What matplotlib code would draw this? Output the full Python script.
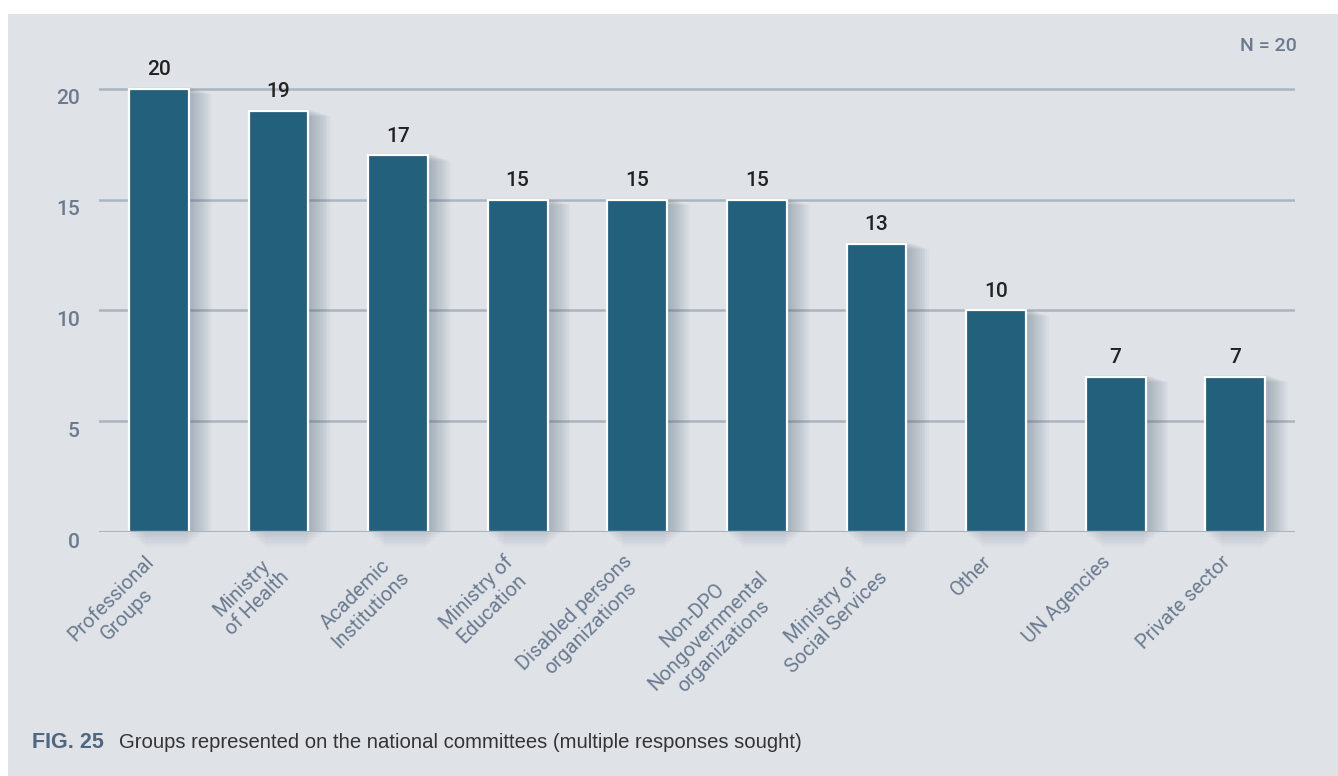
import matplotlib.pyplot as plt
from matplotlib.patches import Rectangle
from matplotlib.transforms import ScaledTranslation, offset_copy

# committee groups and how many of the 20 countries reported each
groups = ["Professional\nGroups", "Ministry\nof Health", "Academic\nInstitutions",
          "Ministry of\nEducation", "Disabled persons\norganizations",
          "Non-DPO\nNongovernmental\norganizations", "Ministry of\nSocial Services",
          "Other", "UN Agencies", "Private sector"]
counts = [20, 19, 17, 15, 15, 15, 13, 10, 7, 7]
yticks = [0, 5, 10, 15, 20]

bg = "#dfe3e8"
bar_col = "#22607b"
grid_col = "#aab4be"
label_col = "#6b7a8f"
narrow = ["Roboto", "DejaVu Sans"]

fig = plt.figure(figsize=(13.38, 7.76), dpi=100)
fig.patch.set_facecolor("white")
# grey panel behind everything
fig.patches.append(Rectangle((8 / 1338, 0), 1, (776 - 14) / 776, transform=fig.transFigure,
                             facecolor=bg, edgecolor="none", zorder=-5))

ax = fig.add_axes([99 / 1338, 244 / 776, 1196 / 1338, 0.6137])
ax.set_zorder(2)
ax.set_facecolor("none")
ax.set_xlim(-0.5, len(counts) - 0.5)
ax.set_ylim(0, 21.5)

x = list(range(len(counts)))
w = 0.5

for t in yticks[1:]:
    ax.axhline(t, color=grid_col, linewidth=1.8, zorder=0.5)

# soft shadow to the right of each bar and under the baseline
for i, v in enumerate(counts):
    for k in range(12):
        ax.add_patch(Rectangle((i - w / 2, 0), w + 0.016 * (k + 1), v + 0.1 - 0.03 * k,
                               facecolor="#56657a", edgecolor="none", alpha=0.04, zorder=1))
    for k in range(10):
        ax.add_patch(Rectangle((i - w / 2 + 0.015 * k, -0.07 * (k + 1)), w + 0.12 - 0.03 * k,
                               0.07 * (k + 1), facecolor="#56657a", edgecolor="none",
                               alpha=0.018, zorder=1, clip_on=False))
ax.bar(x, counts, width=w, color=bar_col, edgecolor="white", linewidth=1.6, zorder=3)
ax.axhline(0, color=grid_col, linewidth=2.2, zorder=4)

for i, v in enumerate(counts):
    ax.annotate(str(v), (i, v), xytext=(0, 7), textcoords="offset points",
                ha="center", va="bottom", fontsize=15, color="#222222",
                family=narrow, fontweight="medium", zorder=5)

for s in ax.spines.values():
    s.set_visible(False)
ax.tick_params(length=0)
ax.set_yticks(yticks)
ax.set_yticklabels([str(t) for t in yticks], fontsize=15, color=label_col,
                   family=narrow, fontweight="medium")
ax.tick_params(axis="y", pad=14)
for lab in ax.get_yticklabels():
    lab.set_transform(lab.get_transform() + ScaledTranslation(0, -8 / 100, fig.dpi_scale_trans))

ax.set_xticks([])
lab_tr = offset_copy(ax.transData, fig=fig, x=0, y=-20, units="dots")
for i, g in enumerate(groups):
    ax.text(i - 0.12, 0, g, transform=lab_tr, rotation=45, rotation_mode="anchor",
            ha="right", va="top", multialignment="center", fontsize=14.5,
            color=label_col, family=narrow, clip_on=False)

fig.text(1297 / 1338, 1 - 46 / 776, "N = 20", ha="right", va="center",
         fontsize=14, color=label_col, family=narrow, fontweight="medium")

fig.text(32 / 1338, 1 - 743 / 776, "FIG. 25", ha="left", va="center", fontsize=15.5,
         color="#4f6680", fontweight="bold", family="Liberation Sans")
fig.text(119 / 1338, 1 - 743 / 776,
         "Groups represented on the national committees (multiple responses sought)",
         ha="left", va="center", fontsize=14.6, color="#333333", family="Liberation Sans")

fig.savefig("out.png", dpi=100)
